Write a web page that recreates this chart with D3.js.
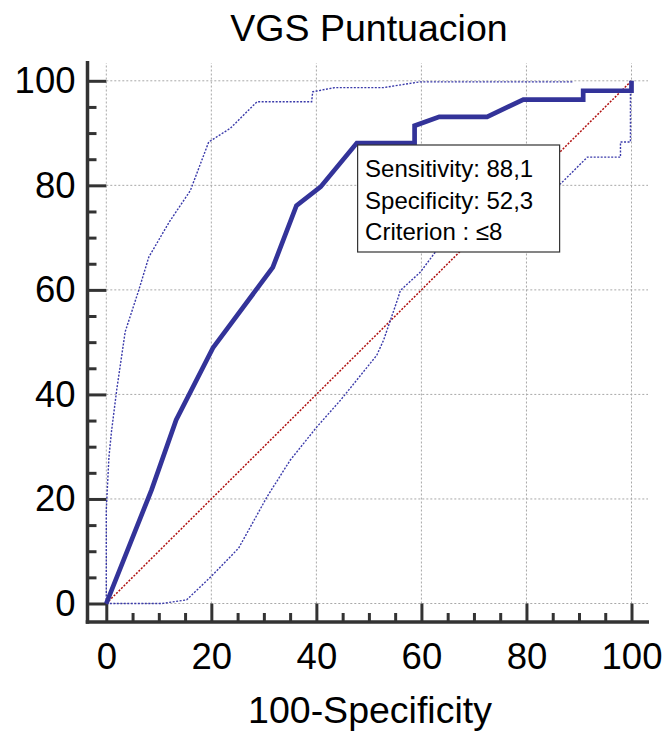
<!DOCTYPE html>
<html>
<head>
<meta charset="utf-8">
<script src="https://cdn.jsdelivr.net/npm/d3@7"></script>
<style>
  html, body { margin: 0; padding: 0; background: #fff; }
  svg { display: block; font-family: "Liberation Sans", Arial, sans-serif; }
</style>
</head>
<body>
<svg id="chart" width="667" height="735"></svg>
<script>
// ---- Data ----
const title = "VGS Puntuacion";
const xLabel = "100-Specificity";
const majorTicks = [0, 20, 40, 60, 80, 100];
const minorTicks = [5, 10, 15, 25, 30, 35, 45, 50, 55, 65, 70, 75, 85, 90, 95];

// ROC curve (100-Specificity, Sensitivity)
const rocX = [0, 8.6, 13.3, 20.3, 31.7, 36.2, 40.8, 47.7, 58.7, 58.7, 63.4, 72.5, 79.4, 90.8, 90.8, 100, 100];
const rocY = [0, 21.7, 35.1, 48.9, 64.3, 76.1, 79.7, 88.1, 88.1, 91.4, 93.1, 93.1, 96.4, 96.4, 98.1, 98.1, 100];

// Upper confidence bound
const upX = [0, 0, 0.5, 1, 2, 3.6, 6.2, 8.1, 12, 16, 19.5, 23.6, 28.7, 39.1, 39.3, 43.5, 52.8, 59.7, 89];
const upY = [0, 18, 28, 33, 41, 52, 60, 66.3, 73, 79, 88.3, 90.9, 96, 96, 97.9, 98.7, 98.7, 99.8, 99.8];

// Lower confidence bound
const loX = [0, 10.6, 15.3, 20.1, 25.2, 30.6, 35, 40.1, 44.6, 51.5, 52.8, 55.4, 56, 59.8, 62.7, 86.5, 91.6, 97.9, 97.9, 99.8, 99.8];
const loY = [0, 0, 0.7, 5.3, 10.6, 20.4, 27.4, 33.8, 38.9, 47.5, 50.4, 58, 59.9, 63.4, 67.3, 80.3, 85.4, 85.4, 88.3, 88.3, 100];

// Reference diagonal
const diagX = [0, 100];
const diagY = [0, 100];

// Annotation
const criterionPoint = [47.7, 88.1];
const annotation = ["Sensitivity: 88,1", "Specificity: 52,3", "Criterion : \u22648"];

// ---- Drawing ----
const svg = d3.select("#chart");
const x = d3.scaleLinear().domain([0, 100]).range([106.3, 631.5]);
const y = d3.scaleLinear().domain([0, 100]).range([603.5, 80.8]);
const plotRight = 648, plotTop = 63;
const spineX = 87.5, spineY = 622;
const font = '"Liberation Sans", Arial, sans-serif';

// grid
const grid = svg.append("g").attr("stroke", "#a8a8a8").attr("stroke-width", 1)
  .attr("stroke-dasharray", "2,2").attr("fill", "none");
majorTicks.forEach(v => {
  grid.append("line").attr("x1", x(v)).attr("x2", x(v)).attr("y1", y(0)).attr("y2", plotTop);
  grid.append("line").attr("y1", y(v)).attr("y2", y(v)).attr("x1", x(0)).attr("x2", plotRight);
});

// axes
const xAxisMajor = d3.axisBottom(x).tickValues(majorTicks).tickSizeInner(-(spineY - y(0))).tickSizeOuter(0).tickPadding(21).tickFormat(d3.format("d"));
const xAxisMinor = d3.axisBottom(x).tickValues(minorTicks).tickSizeInner(-9).tickSizeOuter(0).tickFormat("");
const yAxisMajor = d3.axisLeft(y).tickValues(majorTicks).tickSizeInner(-(x(0) - spineX)).tickSizeOuter(0).tickPadding(12).tickFormat(d3.format("d"));
const yAxisMinor = d3.axisLeft(y).tickValues(minorTicks).tickSizeInner(-9).tickSizeOuter(0).tickFormat("");

function styleAxis(g) {
  g.select(".domain").remove();
  g.selectAll(".tick line").attr("stroke", "#333").attr("stroke-width", 3);
  g.selectAll(".tick text").attr("fill", "#000").style("font-family", font).style("font-size", "36.5px");
}
svg.append("g").attr("transform", `translate(0,${spineY})`).call(xAxisMajor).call(styleAxis);
svg.append("g").attr("transform", `translate(0,${spineY})`).call(xAxisMinor).call(styleAxis);
svg.append("g").attr("transform", `translate(${spineX},0)`).call(yAxisMajor).call(styleAxis);
svg.append("g").attr("transform", `translate(${spineX},0)`).call(yAxisMinor).call(styleAxis);

// spines
svg.append("line").attr("x1", spineX).attr("x2", spineX).attr("y1", 61).attr("y2", spineY + 1.75)
  .attr("stroke", "#333").attr("stroke-width", 3.5);
svg.append("line").attr("x1", spineX - 1.75).attr("x2", 649).attr("y1", spineY).attr("y2", spineY)
  .attr("stroke", "#333").attr("stroke-width", 3.5);

// lines
const line = d3.line().x(d => x(d[0])).y(d => y(d[1]));
const zip = (a, b) => a.map((v, i) => [v, b[i]]);

svg.append("path").datum(zip(diagX, diagY)).attr("d", line)
  .attr("fill", "none").attr("stroke", "#b01010").attr("stroke-width", 1.5).attr("stroke-dasharray", "2,1.5");
svg.append("path").datum(zip(upX, upY)).attr("d", line)
  .attr("fill", "none").attr("stroke", "#3a3aaa").attr("stroke-width", 1.4).attr("stroke-dasharray", "2,1.5");
svg.append("path").datum(zip(loX, loY)).attr("d", line)
  .attr("fill", "none").attr("stroke", "#3a3aaa").attr("stroke-width", 1.4).attr("stroke-dasharray", "2,1.5");
svg.append("path").datum(zip(rocX, rocY)).attr("d", line)
  .attr("fill", "none").attr("stroke", "#333399").attr("stroke-width", 4.7).attr("stroke-linejoin", "miter");

// annotation box
const bx = x(criterionPoint[0]) + 0.8, by = y(criterionPoint[1]) + 2;
svg.append("rect").attr("x", bx).attr("y", by).attr("width", 202).attr("height", 107)
  .attr("fill", "#fff").attr("stroke", "#333").attr("stroke-width", 1.2);
svg.append("g").selectAll("text").data(annotation).join("text")
  .attr("x", bx + 7.5).attr("y", (d, i) => by + 32 + i * 31.7)
  .style("font-family", font).style("font-size", "24px").attr("fill", "#000")
  .text(d => d);

// title & label
svg.append("text").attr("x", 369).attr("y", 41).attr("text-anchor", "middle")
  .style("font-family", font).style("font-size", "37.5px").attr("fill", "#000").text(title);
svg.append("text").attr("x", 370).attr("y", 723).attr("text-anchor", "middle")
  .style("font-family", font).style("font-size", "37.5px").attr("fill", "#000").text(xLabel);
</script>
</body>
</html>
